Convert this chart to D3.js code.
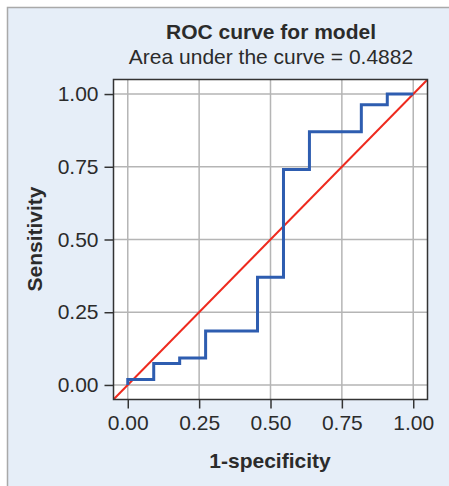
<!DOCTYPE html>
<html><head><meta charset="utf-8">
<script src="https://cdn.jsdelivr.net/npm/d3@7"></script>
<style>body{margin:0;background:#fff}svg{display:block}text{font-family:"Liberation Sans",Arial,sans-serif;fill:#2b2b2b}</style>
</head><body>
<script>
const titleText = "ROC curve for model";
const subtitleText = "Area under the curve = 0.4882";
const xLabel = "1-specificity";
const yLabel = "Sensitivity";
const tickValues = [0, 0.25, 0.5, 0.75, 1];
// ROC step points (1-specificity, sensitivity)
const fpr = [0, 0, 0.0909, 0.0909, 0.1818, 0.1818, 0.2727, 0.2727, 0.4545, 0.4545, 0.5455, 0.5455, 0.6364, 0.6364, 0.8182, 0.8182, 0.9091, 0.9091, 1.0];
const tpr = [0, 0.0185, 0.0185, 0.0741, 0.0741, 0.0926, 0.0926, 0.1852, 0.1852, 0.3704, 0.3704, 0.7407, 0.7407, 0.8704, 0.8704, 0.9630, 0.9630, 1.0, 1.0];
const refLine = [-0.05, 1.05];

const W = 449, H = 486, FS = "21px";
const svg = d3.select("body").append("svg").attr("width", W).attr("height", H);
svg.append("rect").attr("x", 7.5).attr("y", 7.5).attr("width", W).attr("height", H)
  .attr("fill", "#e6eef8").attr("stroke", "#a9a9a9").attr("stroke-width", 1.5);

const L = 113.5, R = 427.5, T = 79.5, B = 399.5;
const x = d3.scaleLinear().domain([-0.05, 1.05]).range([L, R]);
const y = d3.scaleLinear().domain([-0.05, 1.05]).range([B, T]);

svg.append("rect").attr("x", L).attr("y", T).attr("width", R - L).attr("height", B - T).attr("fill", "#fff");

const grid = svg.append("g").attr("stroke", "#b5b5b5").attr("stroke-width", 1.5);
grid.selectAll("line.v").data(tickValues).join("line").attr("class", "v")
  .attr("x1", d => x(d)).attr("x2", d => x(d)).attr("y1", T).attr("y2", B);
grid.selectAll("line.h").data(tickValues).join("line").attr("class", "h")
  .attr("y1", d => y(d)).attr("y2", d => y(d)).attr("x1", L).attr("x2", R);

svg.append("clipPath").attr("id", "c").append("rect")
  .attr("x", L).attr("y", T).attr("width", R - L).attr("height", B - T);

svg.append("line").attr("clip-path", "url(#c)")
  .attr("x1", x(refLine[0])).attr("y1", y(refLine[0])).attr("x2", x(refLine[1])).attr("y2", y(refLine[1]))
  .attr("stroke", "#ee2a1e").attr("stroke-width", 2);

const pts = fpr.map((f, i) => [f, tpr[i]]);
svg.append("path").datum(pts)
  .attr("d", d3.line().x(d => x(d[0])).y(d => y(d[1])))
  .attr("fill", "none").attr("stroke", "#2e5db0").attr("stroke-width", 3).attr("stroke-linejoin", "miter");

svg.append("rect").attr("x", L).attr("y", T).attr("width", R - L).attr("height", B - T)
  .attr("fill", "none").attr("stroke", "#333").attr("stroke-width", 1.5);

const fmt = d3.format(".2f");
const xAxis = svg.append("g").attr("transform", `translate(0,${B})`)
  .call(d3.axisBottom(x).tickValues(tickValues).tickFormat(fmt).tickSize(9).tickPadding(7));
const yAxis = svg.append("g").attr("transform", `translate(${L},0)`)
  .call(d3.axisLeft(y).tickValues(tickValues).tickFormat(fmt).tickSize(9).tickPadding(6));
[xAxis, yAxis].forEach(a => {
  a.select(".domain").remove();
  a.selectAll(".tick line").attr("stroke", "#333").attr("stroke-width", 1.5);
  a.selectAll(".tick text").style("font-family", '"Liberation Sans",Arial,sans-serif')
    .style("font-size", FS).attr("fill", "#2b2b2b");
});

svg.append("text").attr("x", 271).attr("y", 39).attr("text-anchor", "middle")
  .style("font-size", FS).style("font-weight", "bold").text(titleText);
svg.append("text").attr("x", 271).attr("y", 64).attr("text-anchor", "middle")
  .style("font-size", FS).text(subtitleText);
svg.append("text").attr("x", 270).attr("y", 468).attr("text-anchor", "middle")
  .style("font-size", FS).style("font-weight", "bold").text(xLabel);
svg.append("text").attr("transform", "translate(42,239) rotate(-90)").attr("text-anchor", "middle")
  .style("font-size", FS).style("font-weight", "bold").text(yLabel);
</script>
</body></html>
